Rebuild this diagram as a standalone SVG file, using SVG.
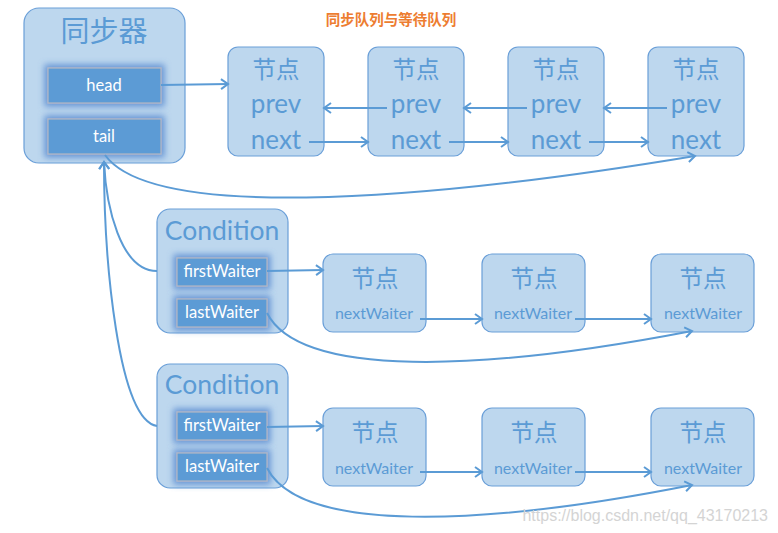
<svg xmlns="http://www.w3.org/2000/svg" width="778" height="533" viewBox="0 0 778 533">
<defs>
<style>
.box{fill:#bdd7ee;stroke:#6a9fd8;stroke-width:1.2}
.inner{fill:#5b9bd5;stroke:#b4b8c4;stroke-width:1.2}
.lbl{fill:#5b9bd5;font-family:Lato,"Noto Sans","Noto Sans CJK SC",sans-serif;text-anchor:middle}
.cjk{fill:#5b9bd5;font-family:"Noto Sans CJK SC",sans-serif;text-anchor:middle}
.nd{font-size:23.5px}
.wt{fill:#ffffff;font-family:Lato,"Noto Sans",sans-serif;font-size:16.5px;text-anchor:middle}
.big{font-size:26px}
.nw{font-size:16px}
.conn path{fill:none;stroke:#5b9bd5;stroke-width:2;marker-end:url(#arr)}
</style>
<marker id="arr" markerUnits="userSpaceOnUse" markerWidth="14" markerHeight="14" refX="9" refY="6" orient="auto">
<path d="M2,1 L9,6 L2,11" fill="none" stroke="#5b9bd5" stroke-width="2"/>
</marker>
<filter id="glow" x="-30%" y="-60%" width="160%" height="220%">
<feFlood flood-color="#4a80cc" flood-opacity="0.75"/>
<feComposite in2="SourceAlpha" operator="in"/>
<feMorphology operator="dilate" radius="2.5"/>
<feGaussianBlur stdDeviation="3"/>
<feMerge><feMergeNode/><feMergeNode in="SourceGraphic"/></feMerge>
</filter>
</defs>
<rect width="778" height="533" fill="#ffffff"/>
<text x="391" y="25" font-family="'Noto Sans CJK SC',sans-serif" font-size="14.5" font-weight="bold" fill="#ed7d31" text-anchor="middle">同步队列与等待队列</text>

<g id="sync">
<rect class="box" x="24" y="8" width="161" height="155" rx="15"/>
<text class="cjk" x="104" y="42" font-size="29">同步器</text>
<g id="head"><rect class="inner" x="48" y="68" width="113" height="35" filter="url(#glow)"/><text class="wt" x="104" y="91">head</text></g>
<g id="tail"><rect class="inner" x="48" y="119" width="113" height="35" filter="url(#glow)"/><text class="wt" x="104" y="142">tail</text></g>
</g>

<g id="n1"><rect class="box" x="228" y="47" width="96" height="109" rx="10"/><text class="cjk nd" x="276" y="78">节点</text><text class="lbl big" x="276" y="113">prev</text><text class="lbl big" x="276" y="149">next</text></g>
<g id="n2"><rect class="box" x="368" y="47" width="96" height="109" rx="10"/><text class="cjk nd" x="416" y="78">节点</text><text class="lbl big" x="416" y="113">prev</text><text class="lbl big" x="416" y="149">next</text></g>
<g id="n3"><rect class="box" x="508" y="47" width="96" height="109" rx="10"/><text class="cjk nd" x="556" y="78">节点</text><text class="lbl big" x="556" y="113">prev</text><text class="lbl big" x="556" y="149">next</text></g>
<g id="n4"><rect class="box" x="648" y="47" width="96" height="109" rx="10"/><text class="cjk nd" x="696" y="78">节点</text><text class="lbl big" x="696" y="113">prev</text><text class="lbl big" x="696" y="149">next</text></g>

<g id="cond1">
<rect class="box" x="157" y="209" width="131" height="124" rx="13"/>
<text class="lbl" x="222" y="240" font-size="26.5">Condition</text>
<g id="fw1"><rect class="inner" x="177" y="258" width="90" height="28" filter="url(#glow)"/><text class="wt" x="222" y="277">firstWaiter</text></g>
<g id="lw1"><rect class="inner" x="177" y="299" width="90" height="28" filter="url(#glow)"/><text class="wt" x="222" y="318">lastWaiter</text></g>
</g>
<g id="cond2">
<rect class="box" x="157" y="364" width="131" height="124" rx="13"/>
<text class="lbl" x="222" y="394" font-size="26.5">Condition</text>
<g id="fw2"><rect class="inner" x="177" y="412" width="90" height="28" filter="url(#glow)"/><text class="wt" x="222" y="431">firstWaiter</text></g>
<g id="lw2"><rect class="inner" x="177" y="453" width="90" height="28" filter="url(#glow)"/><text class="wt" x="222" y="472">lastWaiter</text></g>
</g>

<g id="w11"><rect class="box" x="323" y="254" width="103" height="78" rx="10"/><text class="cjk nd" x="375" y="287">节点</text><text class="lbl nw" x="374" y="319">nextWaiter</text></g>
<g id="w12"><rect class="box" x="482" y="254" width="103" height="78" rx="10"/><text class="cjk nd" x="534" y="287">节点</text><text class="lbl nw" x="533" y="319">nextWaiter</text></g>
<g id="w13"><rect class="box" x="651" y="254" width="103" height="78" rx="10"/><text class="cjk nd" x="703" y="287">节点</text><text class="lbl nw" x="703" y="319">nextWaiter</text></g>
<g id="w21"><rect class="box" x="323" y="408" width="103" height="78" rx="10"/><text class="cjk nd" x="375" y="441">节点</text><text class="lbl nw" x="374" y="474">nextWaiter</text></g>
<g id="w22"><rect class="box" x="482" y="408" width="103" height="78" rx="10"/><text class="cjk nd" x="534" y="441">节点</text><text class="lbl nw" x="533" y="474">nextWaiter</text></g>
<g id="w23"><rect class="box" x="651" y="408" width="103" height="78" rx="10"/><text class="cjk nd" x="703" y="441">节点</text><text class="lbl nw" x="703" y="474">nextWaiter</text></g>

<g class="conn">
<path d="M161,85 L228,84"/>
<path d="M387,108 L324,108"/>
<path d="M527,108 L464,108"/>
<path d="M667,108 L604,108"/>
<path d="M309,142 L368,142"/>
<path d="M449,142 L508,142"/>
<path d="M589,142 L648,142"/>
<path d="M105,155 C150,218 400,205 695,156"/>
<path d="M157,271 C120,271 106,205 104,162"/>
<path d="M157,426 C118,420 104,260 104,162"/>
<path d="M267,271 L323,270"/>
<path d="M420,319 L482,319"/>
<path d="M575,319 L651,319"/>
<path d="M267,313 C300,378 480,372 692,331"/>
<path d="M267,427 L323,426"/>
<path d="M420,472 L482,472"/>
<path d="M575,472 L651,472"/>
<path d="M267,468 C300,533 480,527 692,485"/>
</g>

<text x="768" y="521" font-family="'Liberation Sans',sans-serif" font-size="16" fill="#d4d4d4" text-anchor="end">https://blog.csdn.net/qq_43170213</text>
</svg>
